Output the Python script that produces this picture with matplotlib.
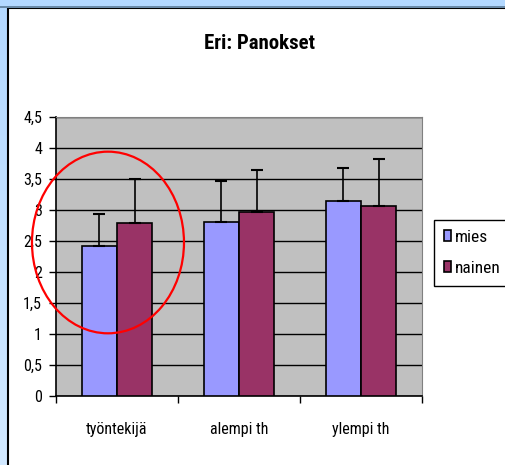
import numpy as np
import matplotlib.pyplot as plt
from matplotlib.colors import LinearSegmentedColormap
from matplotlib.patches import Rectangle, Ellipse

plt.rcParams['font.family'] = ['Roboto Condensed', 'Liberation Sans', 'DejaVu Sans']

categories = ['työntekijä', 'alempi th', 'ylempi th']
series = ['mies', 'nainen']
mies = [2.42, 2.80, 3.15]
nainen = [2.79, 2.97, 3.06]
mies_err = [0.52, 0.67, 0.53]
nainen_err = [0.71, 0.68, 0.77]
colors = ['#9999ff', '#993366']

W, H = 505, 465
fig = plt.figure(figsize=(W / 100, H / 100), dpi=100)

# light blue frame with gradient, white chart area on top
bg = fig.add_axes([0, 0, 1, 1], zorder=-10)
grad = np.linspace(0, 1, 256).reshape(-1, 1)
bg.imshow(grad, aspect='auto', extent=[0, 1, 0, 1],
          cmap=LinearSegmentedColormap.from_list('b', ['#b3d8ff', '#d2e9ff']))
bg.set_axis_off()
bg.add_patch(Rectangle((8 / W, -0.1), 1.2, 1.1 - 8 / H, facecolor='white',
                       edgecolor='black', linewidth=1.5, transform=bg.transAxes))
bg.add_patch(Rectangle((0, 1 - 8 / H), 1, 1.5 / H, facecolor='#6a8aa8', edgecolor='none',
                       transform=bg.transAxes))

ax = fig.add_axes([56 / W, (H - 396) / H, (422 - 56) / W, (396 - 117) / H])
ax.set_facecolor('#c0c0c0')

x = np.arange(len(categories)) + 0.5
bw = 0.29
vals = [mies, nainen]
errs = [mies_err, nainen_err]
for i, (v, e) in enumerate(zip(vals, errs)):
    pos = x + (i - 0.5) * bw
    ax.bar(pos, v, width=bw, color=colors[i], edgecolor='black', linewidth=1.2,
           label=series[i], zorder=3)
    ax.errorbar(pos, v, yerr=[np.zeros(len(e)), e], fmt='none', ecolor='black',
                elinewidth=1.2, capsize=4, capthick=1.5, zorder=4)

ax.set_xlim(0, 3)
ax.set_ylim(0, 4.5)
yt = np.arange(0, 4.51, 0.5)
ax.set_yticks(yt)
ax.set_yticklabels([('%g' % t).replace('.', ',') for t in yt], fontsize=11.5)
ax.yaxis.grid(True, color='black', linewidth=1, zorder=1)
ax.set_axisbelow(True)

ax.set_xticks([0, 1, 2, 3])
ax.set_xticklabels([])
ax.set_xticks(x, minor=True)
ax.set_xticklabels(categories, minor=True, fontsize=11.5)
ax.tick_params(axis='x', which='minor', length=0, pad=19)
ax.tick_params(axis='x', which='major', length=5, width=1)
ax.tick_params(axis='y', length=5, width=1, pad=5)

for s in ['top', 'right']:
    ax.spines[s].set_color('#808080')
for s in ['left', 'bottom']:
    ax.spines[s].set_color('black')
    ax.spines[s].set_linewidth(1.2)

ax.add_patch(Ellipse((0.426, 2.476), 1.246, 2.93, fill=False, edgecolor='red',
                     linewidth=1.6, clip_on=False, zorder=6))

fig.text(260 / W, 1 - 43 / H, 'Eri: Panokset', ha='center', va='center',
         fontsize=15, fontweight='bold')

leg = fig.legend(loc='upper left', bbox_to_anchor=(434 / W, 1 - 220 / H), fontsize=12.5,
                 frameon=True, fancybox=False, edgecolor='black', framealpha=1,
                 handlelength=0.45, handleheight=0.6, handletextpad=0.2,
                 labelspacing=0.95, borderpad=0.55, borderaxespad=0)
leg.get_frame().set_linewidth(1)

fig.savefig('out.png', dpi=100)
